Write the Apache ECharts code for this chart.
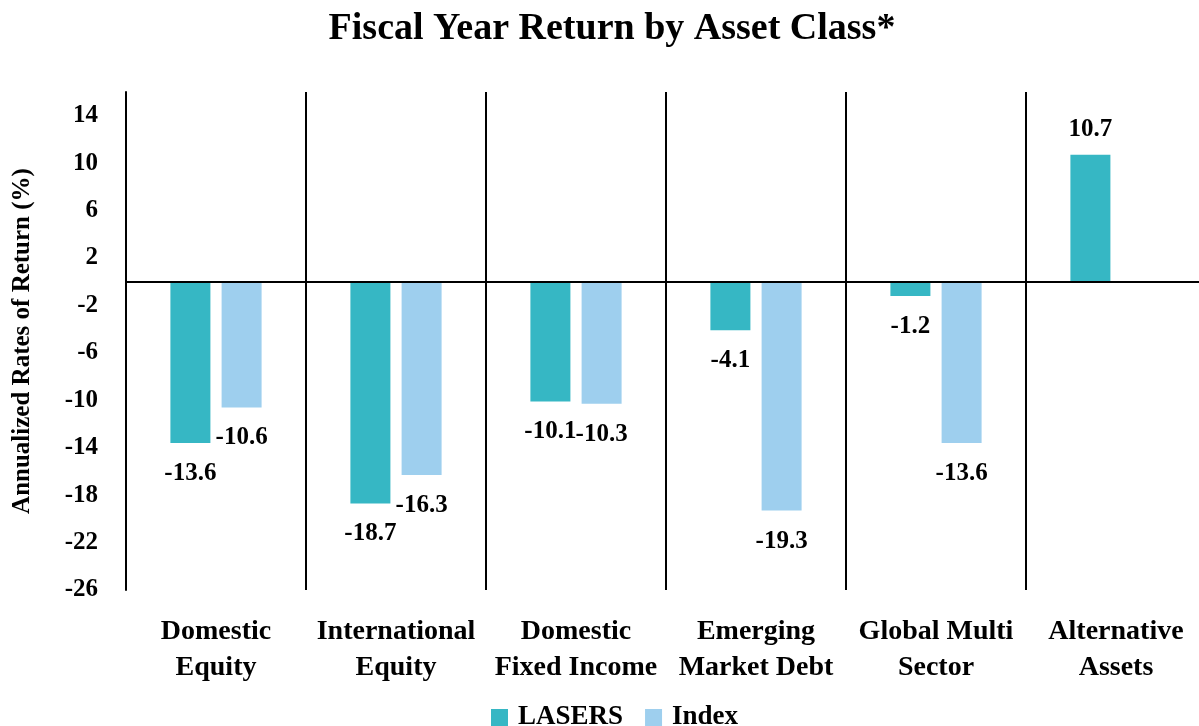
<!DOCTYPE html>
<html>
<head>
<meta charset="utf-8">
<script src="https://cdn.jsdelivr.net/npm/echarts@6/dist/echarts.min.js"></script>
<style>
  html, body { margin: 0; padding: 0; background: #fff; }
  #main { width: 1199px; height: 726px; }
</style>
</head>
<body>
<div id="main"></div>
<script>
// data
const categories = ['Domestic\nEquity', 'International\nEquity', 'Domestic\nFixed Income',
  'Emerging\nMarket Debt', 'Global Multi\nSector', 'Alternative\nAssets']
const lasers = [-13.6, -18.7, -10.1, -4.1, -1.2, 10.7]
const index = [-10.6, -16.3, -10.3, -19.3, -13.6, null]
const yTicks = [14, 10, 6, 2, -2, -6, -10, -14, -18, -22, -26]

const FONT = '"Liberation Serif", "DejaVu Serif", serif'

// negative bars get their label under the bar end, positive ones above
function withLabels(arr) {
  return arr.map(v => v == null ? '-' : {
    value: v,
    label: v < 0 ? { position: 'bottom', distance: 18 } : { position: 'top', distance: 13 }
  })
}

const myChart = echarts.init(document.getElementById('main'))

const option = {
  animation: false,
  textStyle: { fontFamily: FONT },
  title: {
    text: 'Fiscal Year Return by Asset Class*',
    left: 607,
    top: 5,
    textAlign: 'center',
    textStyle: { fontFamily: FONT, fontSize: 38, fontWeight: 'bold', color: '#000' }
  },
  legend: {
    data: ['LASERS', 'Index'],
    left: 486,
    top: 699,
    itemWidth: 17,
    itemHeight: 17,
    itemGap: 22,
    icon: 'rect',
    textStyle: {
      fontFamily: FONT, fontSize: 27, fontWeight: 'bold', color: '#000',
      padding: [0, 0, 0, 5]
    }
  },
  grid: {
    left: 126,
    top: 92,
    width: 1080,
    height: 498,
    outerBoundsMode: 'none',
    containLabel: false
  },
  xAxis: {
    type: 'category',
    data: categories,
    axisLine: { show: false, onZero: false },
    axisTick: { show: false },
    splitLine: { show: true, lineStyle: { color: '#000', width: 2 } },
    axisLabel: {
      margin: 24,
      fontFamily: FONT,
      fontSize: 28,
      fontWeight: 'bold',
      lineHeight: 36,
      color: '#000',
      interval: 0
    }
  },
  yAxis: {
    type: 'value',
    min: -26,
    max: 16,
    interval: 2,
    name: 'Annualized Rates of Return (%)',
    nameLocation: 'middle',
    nameGap: 91,
    nameTextStyle: { fontFamily: FONT, fontSize: 25, fontWeight: 'bold', color: '#000' },
    axisLine: { show: true, lineStyle: { color: '#000', width: 2 } },
    axisTick: { show: false },
    splitLine: { show: false },
    axisLabel: {
      margin: 28,
      fontFamily: FONT,
      fontSize: 25,
      fontWeight: 'bold',
      color: '#000',
      formatter: function (v) {
        return yTicks.indexOf(v) >= 0 ? String(v) : ''
      }
    }
  },
  series: [
    {
      name: 'LASERS',
      type: 'bar',
      data: withLabels(lasers),
      barWidth: 40,
      barGap: '28%',
      itemStyle: { color: '#36B7C4' },
      label: {
        show: true,
        fontFamily: FONT,
        fontSize: 25,
        fontWeight: 'bold',
        color: '#000'
      },
      markLine: {
        silent: true,
        symbol: 'none',
        label: { show: false },
        lineStyle: { color: '#000', width: 2, type: 'solid' },
        data: [{ yAxis: 0 }]
      }
    },
    {
      name: 'Index',
      type: 'bar',
      data: withLabels(index),
      barWidth: 40,
      itemStyle: { color: '#9ECFEE' },
      label: {
        show: true,
        fontFamily: FONT,
        fontSize: 25,
        fontWeight: 'bold',
        color: '#000'
      }
    }
  ]
}

myChart.setOption(option)

window.addEventListener('resize', () => {
  myChart.resize()
})
</script>
</body>
</html>
